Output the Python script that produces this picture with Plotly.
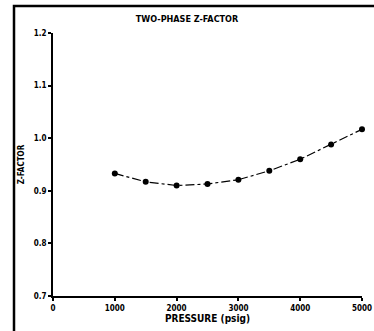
import plotly.graph_objects as go

pressure = [1000, 1500, 2000, 2500, 3000, 3500, 4000, 4500, 5000]
z_factor = [0.933, 0.917, 0.910, 0.913, 0.921, 0.938, 0.960, 0.988, 1.017]
x_ticks = [0, 1000, 2000, 3000, 4000, 5000]
x_tick_labels = ["0", "1000", "2000", "3000", "4000", "5000"]
y_ticks = [0.7, 0.8, 0.9, 1.0, 1.1, 1.2]
y_tick_labels = ["0.7", "0.8", "0.9", "1.0", "1.1", "1.2"]

FONT = "DejaVu Sans Condensed, Liberation Sans, Arial"
L, R, T, B = 53, 12, 33, 35
PW, PH = 374 - L - R, 331 - T - B


def px_x(p):
    return (p - L) / PW


def px_y(p):
    return (331 - B - p) / PH


fig = go.Figure()
fig.add_trace(go.Scatter(
    x=pressure, y=z_factor, mode="lines+markers",
    line=dict(color="black", width=1.2, dash="dashdot"),
    marker=dict(color="black", size=6),
    cliponaxis=False,
    showlegend=False,
))

fig.update_layout(
    width=374, height=331,
    margin=dict(l=L, r=R, t=T, b=B, autoexpand=False),
    paper_bgcolor="white", plot_bgcolor="white",
    font=dict(family=FONT, color="black", size=8, weight="bold"),
    title=dict(text="TWO-PHASE Z-FACTOR", x=0.5, xref="container", xanchor="center",
               y=1 - 19 / 331, yanchor="middle",
               font=dict(family=FONT, size=9, color="black", weight="bold")),
    xaxis=dict(range=[0, 5000], tickvals=x_ticks, ticktext=x_tick_labels,
               automargin=False,
               showgrid=False, zeroline=False, showline=True, linecolor="black",
               linewidth=2, ticks="outside", ticklen=3, tickwidth=1.5, tickcolor="black",
               title=dict(text="PRESSURE (psig)", standoff=2,
                          font=dict(family=FONT, size=10, color="black", weight="bold"))),
    yaxis=dict(range=[0.7, 1.2], tickvals=y_ticks, ticktext=y_tick_labels,
               automargin=False,
               showgrid=False, zeroline=False, showline=True, linecolor="black",
               linewidth=2, ticks="outside", ticklen=3, tickwidth=1.5, tickcolor="black",
               title=dict(text="Z-FACTOR", standoff=8,
                          font=dict(family=FONT, size=8, color="black", weight="bold"))),
)

# outer frame: left border and top border of the original figure box
fig.add_shape(type="path", xref="paper", yref="paper",
              path=f"M {px_x(14)},{px_y(331)} L {px_x(14)},{px_y(6)} L {px_x(374)},{px_y(6)}",
              line=dict(color="black", width=2.5))

fig.write_html("out.html", config={"displayModeBar": False})
